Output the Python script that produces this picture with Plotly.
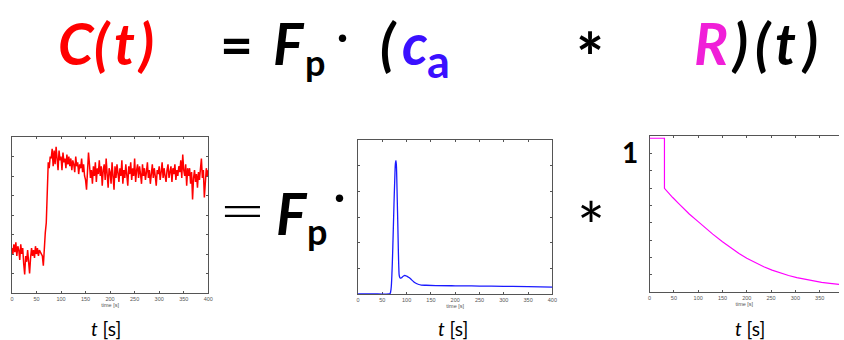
import plotly.graph_objects as go

W, H = 844, 340

# ---------------- data ----------------
# C(t): measured tissue curve (sampled every 2 s, 0..400 s)
c_t = list(range(0, 401, 2))
c_vals = [
    2.3, 2.0, 2.5, 2.1, 2.6, 1.9, 2.4, 2.2, 1.7, 2.5,
    2.0, 2.3, 1.5, 0.95, 1.9, 1.6, 2.2, 1.4, 1.0, 1.8,
    2.3, 1.9, 2.2, 1.8, 2.4, 2.0, 2.3, 1.9, 2.2, 2.1,
    2.0, 1.9, 1.4, 2.7, 3.1, 3.6, 5.4, 6.7, 6.4, 7.0,
    6.9, 7.4, 6.5, 7.3, 6.6, 7.5, 6.9, 6.3, 7.3, 6.8,
    7.0, 6.3, 7.2, 6.7, 6.9, 6.4, 7.1, 6.6, 7.0, 6.5,
    6.9, 6.3, 6.8, 6.6, 6.2, 7.0, 6.5, 6.7, 6.1, 6.6,
    6.4, 6.9, 6.2, 6.6, 6.0, 5.8, 5.3, 6.2, 7.2, 6.6,
    5.9, 6.3, 5.6, 6.5, 6.0, 6.7, 5.7, 6.4, 6.1, 6.8,
    6.0, 6.5, 5.5, 6.3, 6.6, 5.8, 6.9, 6.1, 5.4, 6.4,
    6.2, 5.6, 6.7, 6.0, 5.3, 6.5, 5.9, 6.6, 6.1, 5.7,
    6.4, 6.0, 6.8, 5.6, 6.3, 5.9, 6.6, 6.2, 5.5, 6.5,
    6.1, 6.7, 5.8, 6.4, 6.0, 6.9, 5.7, 6.3, 6.6, 5.9,
    6.5, 6.1, 5.6, 6.6, 6.0, 6.4, 5.8, 6.2, 6.7, 5.9,
    6.3, 5.6, 6.1, 6.6, 5.9, 6.4, 6.0, 5.5, 6.3, 6.1,
    6.5, 5.8, 6.2, 6.7, 5.9, 6.4, 6.0, 5.7, 6.3, 6.6,
    5.9, 6.2, 6.5, 5.7, 6.4, 6.1, 6.6, 5.8, 6.3, 6.0,
    6.5, 6.2, 6.8, 5.9, 7.1, 6.3, 6.0, 6.6, 5.5, 6.4,
    6.0, 6.4, 5.6, 6.2, 4.8, 5.9, 6.3, 5.7, 6.1, 5.4,
    6.2, 5.8, 6.5, 6.9, 5.9, 6.3, 4.9, 5.6, 6.4, 6.0,
    6.3,
]

# c_a(t): arterial input function
ca_t = [0, 40, 64, 66, 68, 70, 72, 74, 76, 77, 78, 79, 80, 82, 84, 85, 87, 90,
        95, 100, 105, 110, 115, 120, 125, 130, 140, 160, 200, 250, 300, 350, 400]
ca_vals = [0, 0, 0, 0.02, 0.2, 0.9, 2.1, 3.5, 4.7, 5.1, 5.2, 5.0, 4.3, 2.6, 1.0,
           0.7, 0.62, 0.64, 0.72, 0.70, 0.64, 0.56, 0.47, 0.41, 0.37, 0.35, 0.34,
           0.33, 0.32, 0.31, 0.30, 0.29, 0.27]

# R(t): impulse residue function
r_t = [0, 30.6, 30.6, 40, 47.6, 60, 70, 81.6, 100, 115.6, 130, 150, 165, 184,
       200, 218, 235, 252, 270, 286, 303, 320, 337, 354, 371, 388, 400]
r_vals = [8.87, 8.87, 5.98, 5.72, 5.45, 5.10, 4.80, 4.50, 4.06, 3.68, 3.34, 2.90,
          2.58, 2.22, 1.95, 1.68, 1.46, 1.26, 1.08, 0.95, 0.83, 0.73, 0.64, 0.56,
          0.50, 0.44, 0.41]

x_ticks = [0, 50, 100, 150, 200, 250, 300, 350, 400]
x_ticktext = [str(v) for v in x_ticks]

# ---------------- figure ----------------
fig = go.Figure()

fig.add_trace(go.Scatter(x=c_t, y=c_vals, mode="lines",
                         line=dict(color="#ff0000", width=1.5),
                         xaxis="x", yaxis="y", showlegend=False))
fig.add_trace(go.Scatter(x=ca_t, y=ca_vals, mode="lines", line_shape="spline",
                         line=dict(color="#1a1aff", width=1.3),
                         xaxis="x2", yaxis="y2", showlegend=False,
                         cliponaxis=False))
fig.add_trace(go.Scatter(x=r_t, y=r_vals, mode="lines",
                         line=dict(color="#ff00ff", width=1.2),
                         xaxis="x3", yaxis="y3", showlegend=False))


def px(x):
    return x / W


def py(y):
    return 1 - y / H


tick_font = dict(size=5.5, color="#555", family="Liberation Sans, Arial")
frame_col = "#555"


def xax(x0, x1, rng, anchor, mirror="ticks"):
    return dict(domain=[px(x0), px(x1)], range=rng, anchor=anchor,
                tickvals=x_ticks, ticktext=x_ticktext, ticks="inside", ticklen=2,
                tickcolor=frame_col, showline=True, linecolor=frame_col, linewidth=1,
                mirror=mirror, showgrid=False, zeroline=False, tickfont=tick_font,
                title=dict(text="time [s]", font=tick_font, standoff=1),
                layer="below traces", fixedrange=True)


def yax(y0, y1, rng, anchor, dtick, mirror="ticks"):
    return dict(domain=[py(y1), py(y0)], range=rng, anchor=anchor,
                tickmode="linear", tick0=0, dtick=dtick, ticks="inside", ticklen=2,
                tickcolor=frame_col, showticklabels=False, showline=True,
                linecolor=frame_col, linewidth=1, mirror=mirror, showgrid=False,
                zeroline=False, layer="below traces", fixedrange=True)


fig.update_layout(
    width=W, height=H,
    margin=dict(l=0, r=0, t=0, b=0),
    paper_bgcolor="white", plot_bgcolor="white",
    xaxis=xax(10, 208, [0, 400], "y"),
    yaxis=yax(137, 293, [0, 8], "x", 1),
    xaxis2=xax(359, 555, [0, 400], "y2"),
    yaxis2=yax(140, 294, [0, 6], "x2", 1),
    xaxis3=xax(653, 844, [0, 389.8], "y3"),
    yaxis3=yax(136, 292, [0, 9], "x3", 1, mirror=False),
)

BIG = "Lato, 'Open Sans', sans-serif"
annos = []


def txt(text, x, y, size, color="black", bold=True, italic=False, family=BIG,
        weight=None):
    t = text
    if italic:
        t = "<i>" + t + "</i>"
    if bold:
        t = "<b>" + t + "</b>"
    font = dict(size=size, color=color, family=family)
    if weight is not None:
        font["weight"] = weight
    annos.append(dict(text=t, x=px(x), y=py(y), xref="paper", yref="paper",
                      xanchor="center", yanchor="middle", showarrow=False,
                      font=font))


RED, BLUE, MAG = "#ff0000", "#3a10ff", "#f020d8"

# ---- top equation ----
txt("C", 75.5, 42.5, 57, color=RED, italic=True)
txt("(", 101.5, 42.5, 57, color=RED, italic=True)
txt("t", 124, 42.5, 57, color=RED, italic=True)
txt(")", 144.5, 42.5, 57, color=RED, italic=True)
txt("=", 236, 44, 57)
txt("F", 289, 42.5, 57, italic=True)
txt("p", 316, 62, 36)
txt("·", 343, 34, 50, bold=False)
txt("(", 390, 42.5, 57, italic=True)
txt("c", 416, 42.5, 57, color=BLUE, italic=True)
txt("a", 440, 60.6, 45, color=BLUE)
txt("*", 592.5, 57, 66)
txt("R", 714.5, 42.5, 57, color=MAG, italic=True)
txt(")", 744, 42.5, 57, italic=True)
txt("(", 768, 42.5, 57, italic=True)
txt("t", 790, 42.5, 57, italic=True)
txt(")", 814, 42.5, 57, italic=True)

# ---- bottom row ----
txt("=", 242.5, 209, 56, bold=False, family="DejaVu Sans", weight=300)
txt("F", 292.5, 212.5, 57, italic=True)
txt("p", 318, 231, 36)
txt("·", 340, 194, 50, bold=False)
txt("*", 593.5, 225, 66, bold=False)
txt("1", 633.5, 152, 28)

for cx in (105, 455, 754):
    annos.append(dict(text="<i>t</i> [s]", x=px(cx), y=py(328), xref="paper",
                      yref="paper", xanchor="center", yanchor="middle",
                      showarrow=False,
                      font=dict(size=19, color="black", family=BIG)))

fig.update_layout(annotations=annos)

fig.write_html("out.html")
